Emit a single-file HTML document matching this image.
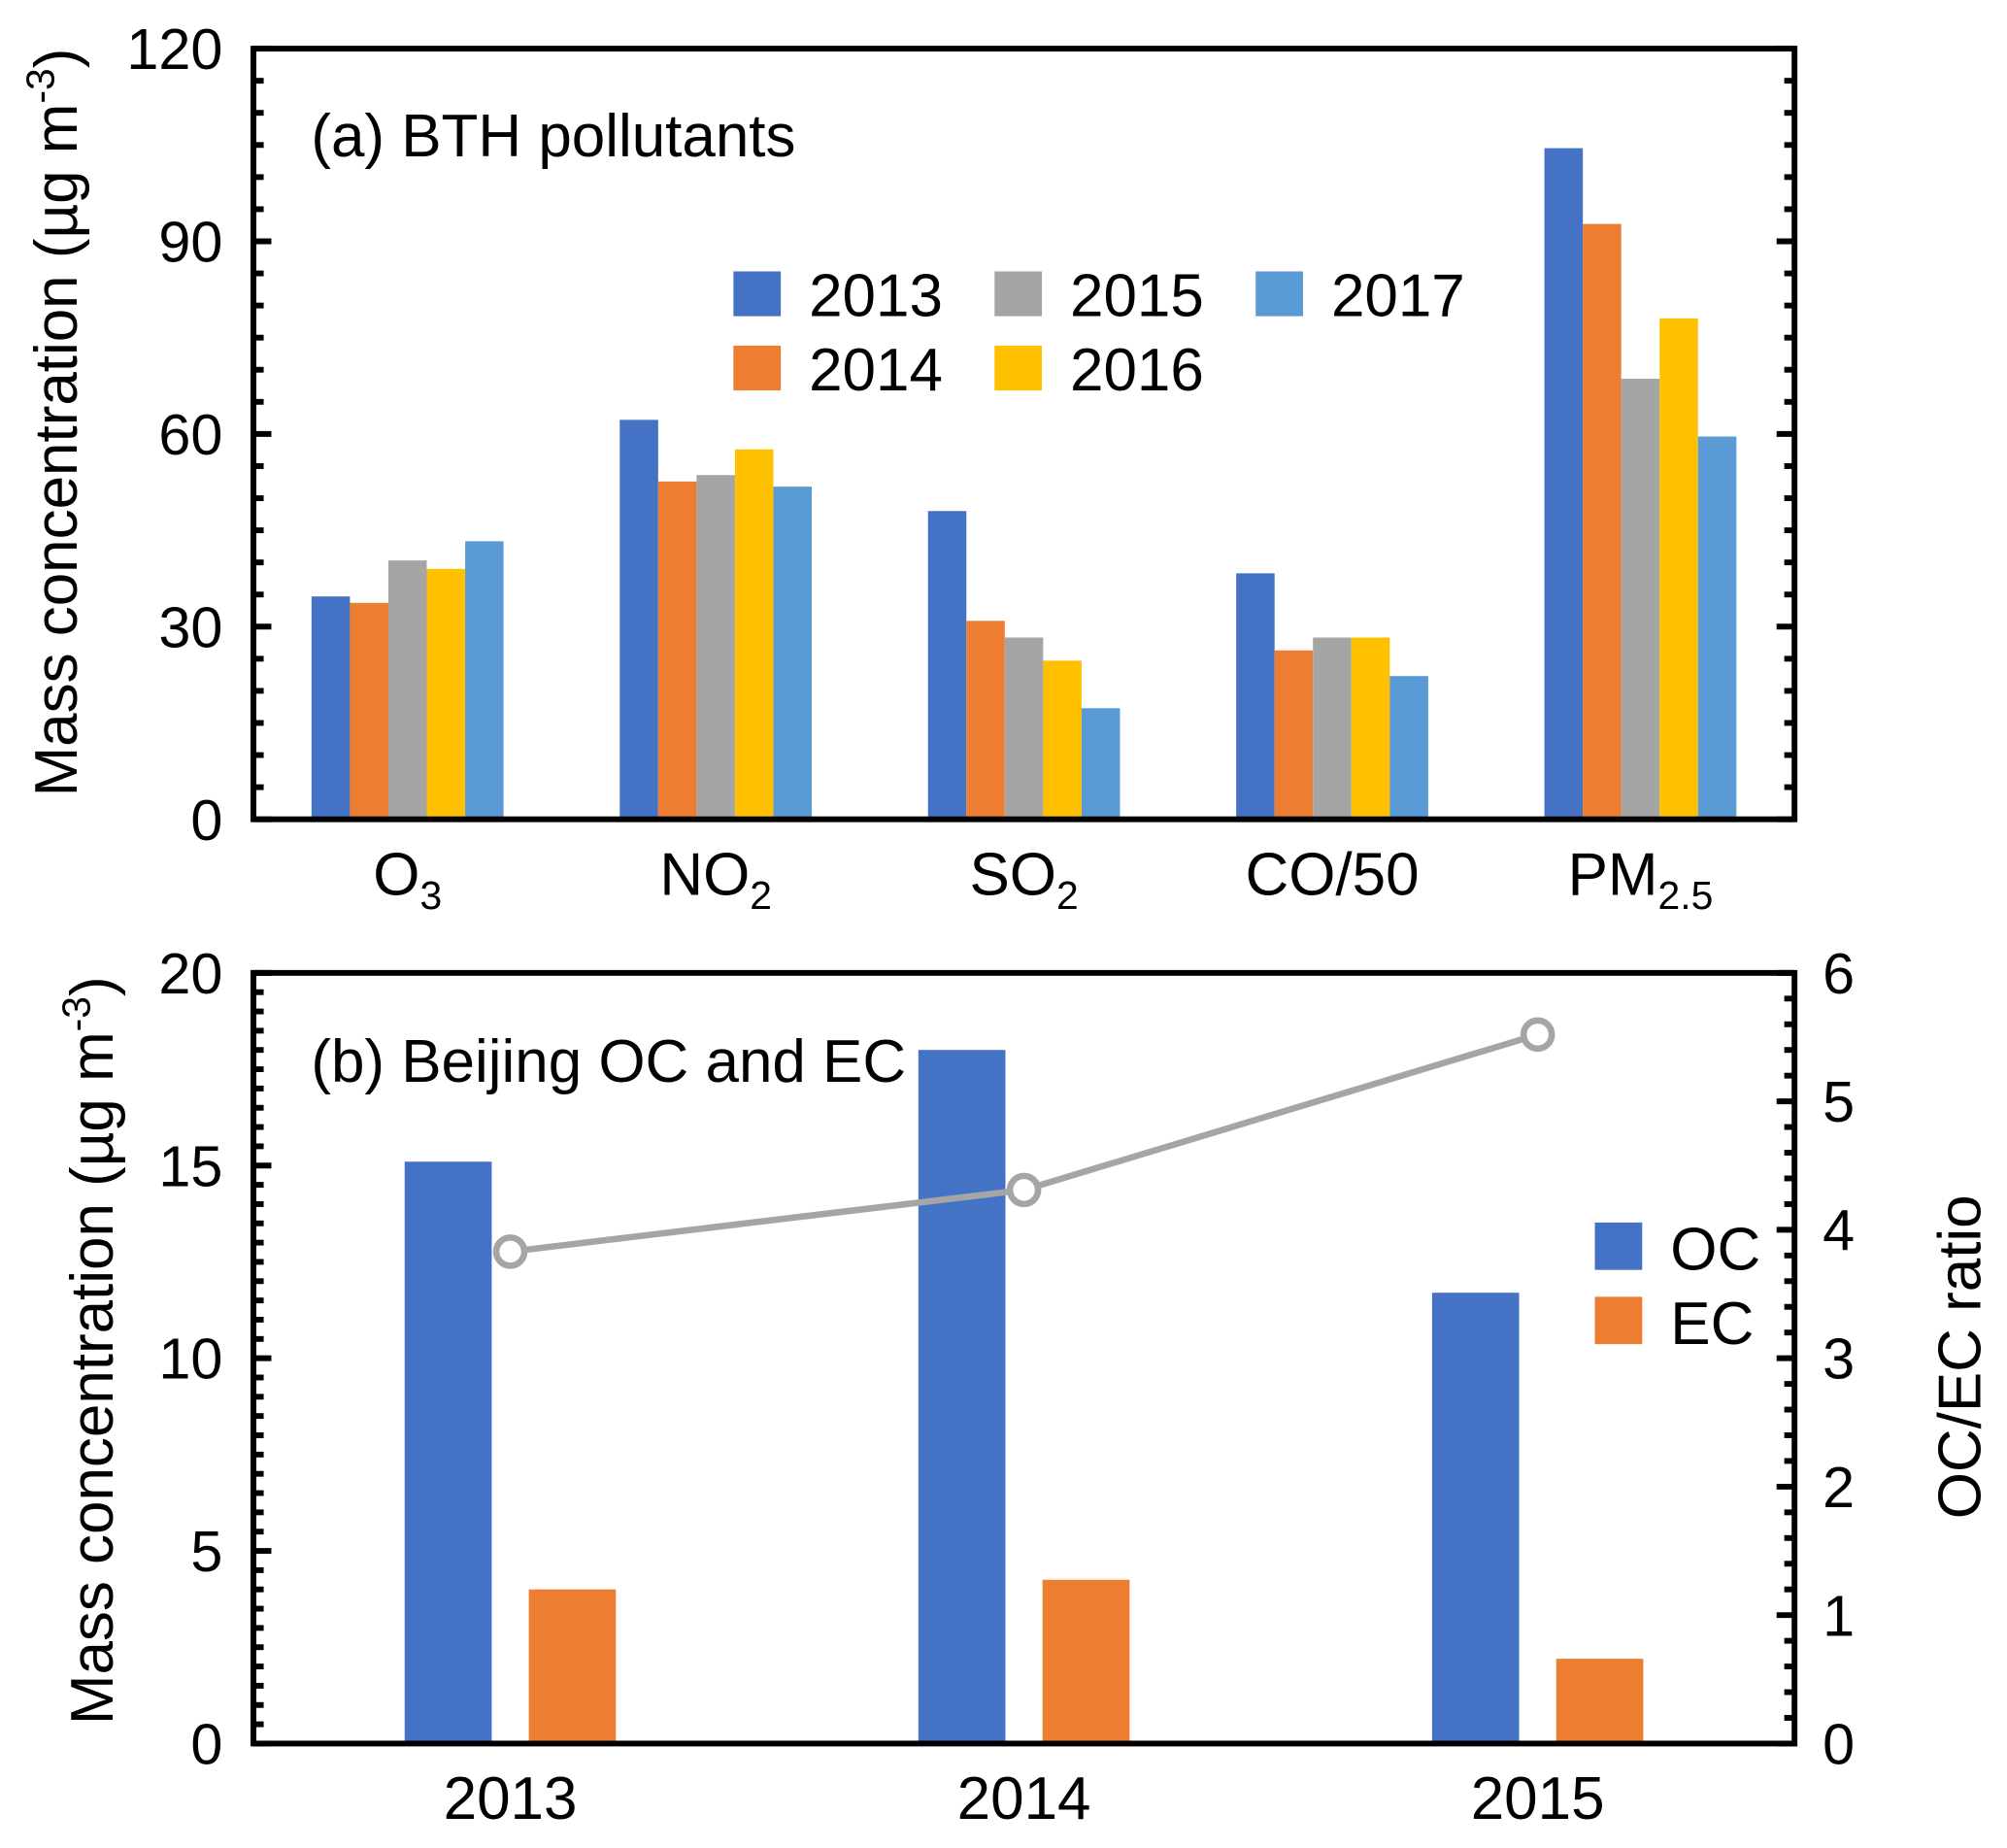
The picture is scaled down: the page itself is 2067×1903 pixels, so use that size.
<!DOCTYPE html>
<html><head><meta charset="utf-8">
<style>
html,body{margin:0;padding:0;background:#fff;}
svg{display:block;font-family:"Liberation Sans",Arial,sans-serif;}
</style></head>
<body>
<svg id="fig" width="2067" height="1903" viewBox="0 0 1568 1443.6" xmlns="http://www.w3.org/2000/svg">
<g id="plotA"></g>
<g id="plotB"></g>
</svg>
<script>
// Panel (a) data
const pollutants = ["O3","NO2","SO2","CO/50","PM2.5"];
const years = ["2013","2014","2015","2016","2017"];
const yearColors = ["#4472c4","#ed7d31","#a5a5a5","#ffc000","#5b9bd5"];
const v2013 = [34.7, 62.2, 48.0, 38.3, 104.5];
const v2014 = [33.7, 52.6, 30.9, 26.3, 92.7];
const v2015 = [40.3, 53.6, 28.3, 28.3, 68.6];
const v2016 = [39.0, 57.6, 24.7, 28.3, 78.0];
const v2017 = [43.3, 51.8, 17.3, 22.3, 59.6];
const ticksA = [0,30,60,90,120];
// Panel (b) data
const yearsB = ["2013","2014","2015"];
const ocValues = [15.1, 18.0, 11.7];
const ecValues = [4.0, 4.25, 2.2];
const ratioValues = [3.83, 4.31, 5.52];
const ticksB = [0,5,10,15,20];
const ticksRatio = [0,1,2,3,4,5,6];

const NS="http://www.w3.org/2000/svg";
function mk(parent,tag,attrs,text){const e=document.createElementNS(NS,tag);for(const k in attrs)e.setAttribute(k,attrs[k]);if(text!==undefined)e.textContent=text;parent.appendChild(e);return e;}
const TF=45, LF=47;

// ---------- Panel A ----------
const A=document.getElementById('plotA');
const aL=198,aR=1402,aT=38,aB=640;
const yA=v=>aB-(v/120)*(aB-aT);
const gwA=(aR-aL)/pollutants.length;
const series=[v2013,v2014,v2015,v2016,v2017];
const bwA=30;
series.forEach((vals,si)=>{
  vals.forEach((v,ci)=>{
    const cx=aL+gwA*(ci+0.5);
    const x=cx+(si-2)*bwA-bwA/2;
    const r=mk(A,'rect',{x:x,y:yA(v),width:bwA,height:aB-yA(v),fill:yearColors[si]});
    
    
  });
});
for(let v=0;v<=120;v+=5){
  const major=v%30===0;const L=major?14:8;const y=yA(v);
  const t1=mk(A,'line',{x1:aL,x2:aL+L,y1:y,y2:y,stroke:'#000','stroke-width':4.5});
  
  
  const t2=mk(A,'line',{x1:aR,x2:aR-L,y1:y,y2:y,stroke:'#000','stroke-width':4.5});
  
  
}
ticksA.forEach(v=>{
  const t=mk(A,'text',{x:aL-24,y:yA(v)+16,'text-anchor':'end','font-size':TF},String(v));
  
  
});
const frA=mk(A,'rect',{x:aL,y:aT,width:aR-aL,height:aB-aT,fill:'none',stroke:'#000','stroke-width':4.5});


const xlabA=[["O","3"],["NO","2"],["SO","2"],["CO/50",""],["PM","2.5"]];
xlabA.forEach((l,i)=>{
  const cx=aL+gwA*(i+0.5);
  const t=mk(A,'text',{x:cx,y:699,'text-anchor':'middle','font-size':LF});
  
  
  mk(t,'tspan',{},l[0]);
  if(l[1]) mk(t,'tspan',{'font-size':31,dy:11},l[1]);
});
const tA=mk(A,'text',{x:243,y:122,'font-size':LF},'(a) BTH pollutants');


const ytA=mk(A,'text',{transform:'translate(60,330) rotate(-90)','text-anchor':'middle','font-size':LF});


mk(ytA,'tspan',{},'Mass concentration (µg m');mk(ytA,'tspan',{'font-size':31,dy:-18},'-3');mk(ytA,'tspan',{dy:18},')');
const legPos=[[573,212],[573,270],[777,212],[777,270],[981,212]];
years.forEach((y,i)=>{
  const [lx,ly]=legPos[i];
  const g=mk(A,'g',{});
  
  
  mk(g,'rect',{x:lx,y:ly,width:37,height:35,fill:yearColors[i]});
  mk(g,'text',{x:lx+59,y:ly+35,'font-size':LF},y);
});

// ---------- Panel B ----------
const B=document.getElementById('plotB');
const bL=198,bR=1402,bT=760,bB=1362;
const yB=v=>bB-(v/20)*(bB-bT);
const yR=v=>bB-(v/6)*(bB-bT);
const gwB=(bR-bL)/yearsB.length;
const bwB=68;
yearsB.forEach((y,i)=>{
  const cx=bL+gwB*(i+0.5);
  const r1=mk(B,'rect',{x:cx-48.5-bwB/2,y:yB(ocValues[i]),width:bwB,height:bB-yB(ocValues[i]),fill:'#4472c4'});
  
  
  const r2=mk(B,'rect',{x:cx+48.5-bwB/2,y:yB(ecValues[i]),width:bwB,height:bB-yB(ecValues[i]),fill:'#ed7d31'});
  
  
});
const pts=ratioValues.map((v,i)=>[bL+gwB*(i+0.5),yR(v)]);
const line=mk(B,'polyline',{points:pts.map(p=>p.join(',')).join(' '),fill:'none',stroke:'#a5a5a5','stroke-width':5});


pts.forEach((p,i)=>{
  const c=mk(B,'circle',{cx:p[0],cy:p[1],r:11,fill:'#fff',stroke:'#a5a5a5','stroke-width':5});
  
  
});
for(let v=0;v<=20;v+=0.5){
  const major=v%5===0;const L=major?14:8;const y=yB(v);
  const t=mk(B,'line',{x1:bL,x2:bL+L,y1:y,y2:y,stroke:'#000','stroke-width':4.5});
  
  
}
for(let k=0;k<=30;k++){
  const v=k*0.2;const major=k%5===0;const L=major?14:8;const y=yR(v);
  const t=mk(B,'line',{x1:bR,x2:bR-L,y1:y,y2:y,stroke:'#000','stroke-width':4.5});
  
  
}
ticksB.forEach(v=>{
  const t=mk(B,'text',{x:bL-24,y:yB(v)+16,'text-anchor':'end','font-size':TF},String(v));
  
  
});
ticksRatio.forEach(v=>{
  const t=mk(B,'text',{x:1424,y:yR(v)+16,'font-size':TF},String(v));
  
  
});
const frB=mk(B,'rect',{x:bL,y:bT,width:bR-bL,height:bB-bT,fill:'none',stroke:'#000','stroke-width':4.5});


yearsB.forEach((y,i)=>{
  const t=mk(B,'text',{x:bL+gwB*(i+0.5),y:1421,'text-anchor':'middle','font-size':LF},y);
  
  
});
const tB=mk(B,'text',{x:243,y:845,'font-size':LF},'(b) Beijing OC and EC');


const ytB=mk(B,'text',{transform:'translate(88,1055) rotate(-90)','text-anchor':'middle','font-size':LF});


mk(ytB,'tspan',{},'Mass concentration (µg m');mk(ytB,'tspan',{'font-size':31,dy:-18},'-3');mk(ytB,'tspan',{dy:18},')');
const yrt=mk(B,'text',{transform:'translate(1547,1060) rotate(-90)','text-anchor':'middle','font-size':LF},'OC/EC ratio');


const lg1=mk(B,'g',{});


mk(lg1,'rect',{x:1246,y:955,width:37,height:37,fill:'#4472c4'});
mk(lg1,'text',{x:1305,y:992,'font-size':LF},'OC');
const lg2=mk(B,'g',{});


mk(lg2,'rect',{x:1246,y:1013,width:37,height:37,fill:'#ed7d31'});
mk(lg2,'text',{x:1305,y:1050,'font-size':LF},'EC');
</script>
</body></html>
